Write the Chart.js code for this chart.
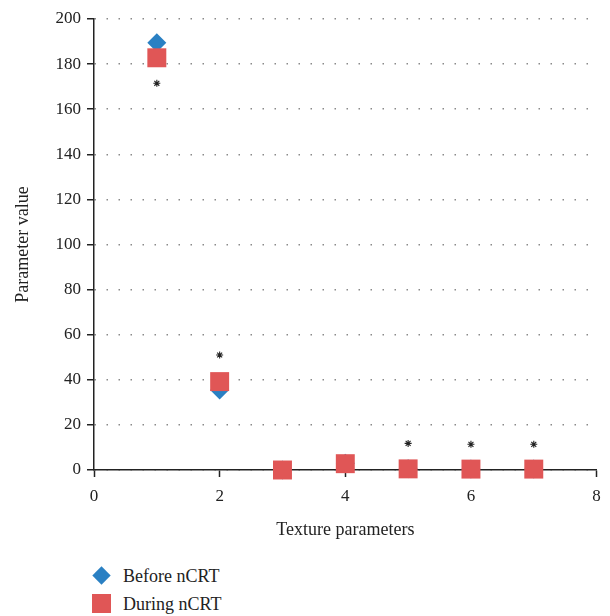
<!DOCTYPE html>
<html>
<head>
<meta charset="utf-8">
<script src="https://cdn.jsdelivr.net/npm/chart.js@4"></script>
<style>
  html, body { margin: 0; padding: 0; background: #fff; }
  #wrap { position: relative; width: 610px; height: 616px; }
  #box { position: absolute; left: 0; top: 0; width: 610px; height: 545px; }
  .legend { position: absolute; left: 92px; font-family: 'Liberation Serif', serif; font-size: 18px; color: #222; }
  .legend-item { display: flex; align-items: center; height: 28px; }
  .legend-mark { width: 20px; height: 20px; margin-right: 11px; position: relative; }
</style>
</head>
<body>
<div id="wrap">
  <div id="box"><canvas id="chart"></canvas></div>
  <div class="legend" id="legend" style="top:562px"></div>
</div>
<script>
// ===== DATA =====
const xParams = [1, 2, 3, 4, 5, 6, 7];
const beforeVals = [189.5, 35.5, 0, 3, 0.5, 0.4, 0.4];
const duringVals = [182.8, 39.2, 0, 2.8, 0.5, 0.4, 0.4];
const sigX = [1, 2, 5, 6, 7];
const sigY = [171.5, 51, 11.8, 11.4, 11.4];
const yTicks = [0, 20, 40, 60, 80, 100, 120, 140, 160, 180, 200];
const xTicks = [0, 2, 4, 6, 8];

const blue = '#2a80c3';
const red = '#e05656';
const serif = "'Liberation Serif', 'DejaVu Serif', serif";

const toPts = (xs, ys) => xs.map((x, i) => ({ x: x, y: ys[i] }));

new Chart(document.getElementById('chart'), {
    type: 'scatter',
    data: {
        datasets: [
            {
                label: 'Before nCRT',
                data: toPts(xParams, beforeVals),
                order: 3,
                clip: false,
                pointStyle: 'rectRot',
                pointRadius: 9.5,
                backgroundColor: blue,
                borderColor: blue,
                borderWidth: 0,
            },
            {
                label: 'During nCRT',
                data: toPts(xParams, duringVals),
                order: 2,
                clip: false,
                pointStyle: 'rect',
                pointRadius: 13.4,
                backgroundColor: red,
                borderColor: red,
                borderWidth: 0,
            },
            {
                label: '*',
                data: toPts(sigX, sigY),
                order: 1,
                clip: false,
                pointStyle: 'star',
                pointRadius: 3.5,
                backgroundColor: '#222',
                borderColor: '#222',
                borderWidth: 1.1,
            }
        ]
    },
    options: {
        responsive: true,
        maintainAspectRatio: false,
        animation: false,
        layout: { padding: { top: 19, right: 11, left: 0, bottom: 0 } },
        plugins: {
            legend: { display: false },
            tooltip: { enabled: false }
        },
        scales: {
            x: {
                type: 'linear',
                min: 0,
                max: 8,
                afterBuildTicks: s => { s.ticks = xTicks.map(v => ({ value: v })); },
                afterFit: s => { s.height = 75; },
                border: { display: true, color: '#222', width: 1.5 },
                grid: {
                    drawOnChartArea: false,
                    drawTicks: true,
                    tickLength: 7,
                    tickColor: '#222',
                    tickWidth: 1.5
                },
                ticks: { font: { family: serif, size: 17 }, color: '#222', padding: 9 },
                title: {
                    display: true,
                    text: 'Texture parameters',
                    font: { family: serif, size: 18 },
                    color: '#222',
                    padding: { top: 4 }
                }
            },
            y: {
                min: 0,
                max: 200,
                afterBuildTicks: s => { s.ticks = yTicks.map(v => ({ value: v })); },
                afterFit: s => { s.width = 94; },
                border: { display: true, color: '#222', width: 1.5, dash: [1.5, 10.5] },
                grid: {
                    color: '#8a8a8a',
                    lineWidth: 1.5,
                    tickBorderDash: [],
                    tickColor: '#222',
                    tickWidth: 1.5,
                    tickLength: 7
                },
                ticks: { font: { family: serif, size: 17 }, color: '#222', padding: 6 },
                title: {
                    display: true,
                    text: 'Parameter value',
                    font: { family: serif, size: 18 },
                    color: '#222',
                    padding: { top: 12, bottom: 0 }
                }
            }
        }
    }
});

// ===== LEGEND =====
const legendEl = document.getElementById('legend');
legendEl.innerHTML = `
    <div class="legend-item">
        <div class="legend-mark"><div style="position:absolute;left:3px;top:3px;width:13px;height:13px;background:${blue};transform:rotate(45deg)"></div></div>
        <span>Before nCRT</span>
    </div>
    <div class="legend-item">
        <div class="legend-mark"><div style="position:absolute;left:0;top:0;width:19px;height:19px;background:${red}"></div></div>
        <span>During nCRT</span>
    </div>
`;
</script>
</body>
</html>
